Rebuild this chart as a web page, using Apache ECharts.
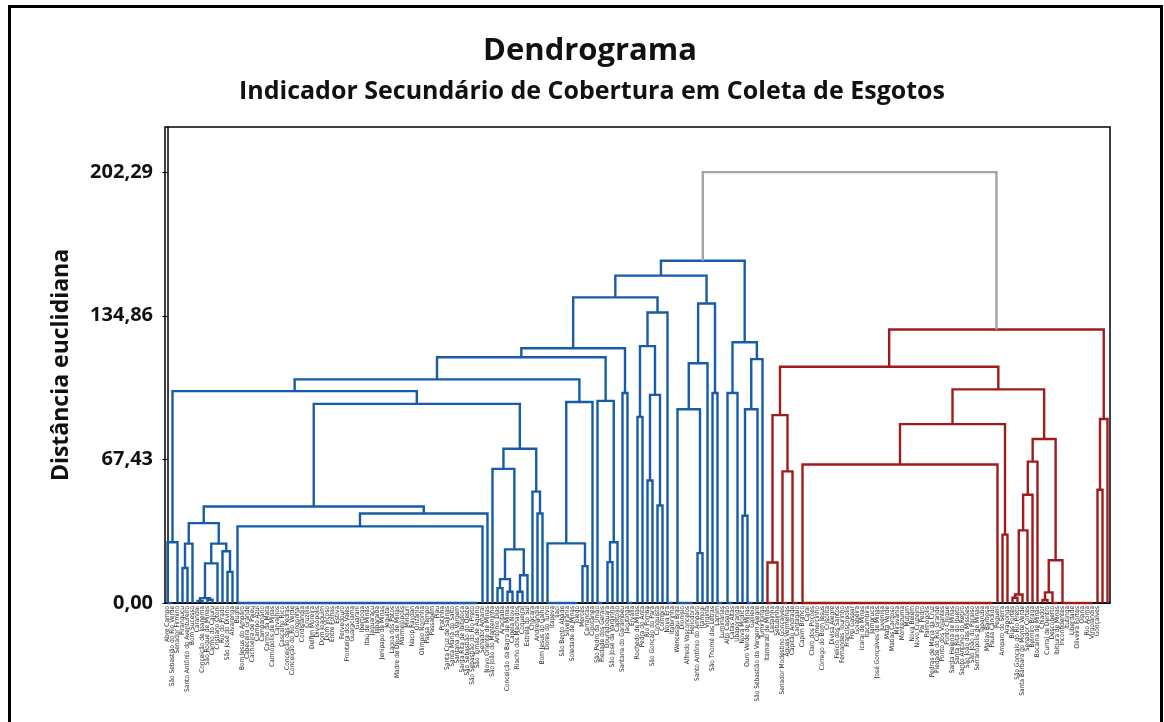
<!DOCTYPE html>
<html>
<head>
<meta charset="utf-8">
<script src="https://cdn.jsdelivr.net/npm/echarts/dist/echarts.min.js"></script>
<style>
  html, body { margin: 0; padding: 0; background: #ffffff; }
  #chart { width: 1164px; height: 722px; }
</style>
</head>
<body>
<div id="chart"></div>
<script>
// Municipalities in dendrogram leaf order.
const municipios = [
  // blue group
  'Abre Campo', 'São Sebastião do Rio Verde', 'Senador Firmino', 'Piranguçu', 'Santo Antônio do Aventureiro',
  'Bom Sucesso', 'Carandaí', 'Conceição de Ipanema', 'São Roque de Minas', 'Carmo do Cajuru', 'Cristiano Otoni',
  'Rio do Prado', 'São José do Divino', 'Alvarenga',
  'Bugre', 'Bom Jesus do Amparo', 'Cabeceira Grande', 'Cachoeira de Pajeú', 'Campo Azul', 'Campanário',
  'Carmo da Mata', 'Carmópolis de Minas', 'Carvalhos', 'Cascalho Rico', 'Conceição das Pedras',
  'Conceição do Rio Verde', 'Congonhal', 'Cordislândia', 'Cruzília', 'Delfim Moreira', 'Divisópolis',
  'Dom Joaquim', 'Dom Viçoso', 'Entre Folhas', 'Estiva', 'Fervedouro', 'Fronteira dos Vales', 'Guaraciama',
  'Guarani', 'Ibertioga', 'Itaú de Minas', 'Jaguaraçu', 'Japaraíba', 'Jenipapo de Minas', 'Jequitaí',
  'Lagoa dos Patos', 'Madre de Deus de Minas', 'Marmelópolis', 'Minduri', 'Nacip Raydan', 'Orizânia',
  'Olímpio Noronha', 'Passa Tempo', 'Passabém', 'Piau', 'Pratinha', 'Santa Cruz de Salinas',
  'Santa Maria do Salto', 'Santana da Vargem', 'Santa Rita de Ibitipoca', 'São Sebastião do Oeste',
  'São Sebastião do Rio Preto', 'São Tomás de Aquino',
  'Senador Amaral', 'Novo Oriente de Minas',
  'São João do Manteninha', 'Antônio Dias', 'Aracitaba', 'Conceição da Barra de Minas', 'Capela Nova',
  'Riacho dos Machados', 'Coqueiral', 'Estrela do Sul', 'Chácara', 'Andrelândia', 'Bom Jesus do Galho',
  'Dores do Turvo', 'Itapeva', 'Ijaci', 'São Bento Abade', 'Silveirânia', 'Soledade de Minas', 'Toledo',
  'Mercês', 'Carrancas', 'Cipotânea',
  'São Pedro da União', 'Piedade dos Gerais', 'Douradoquara', 'São José da Varginha', 'Capitólio',
  'Santana do Garambéu', 'Jacutinga', 'Ervália',
  'Rochedo de Minas', 'Pedra do Anta', 'Rio Pomba', 'São Gonçalo do Pará', 'Conquista', 'Coimbra', 'Nova Era',
  'Itabirinha',
  'Wenceslau Braz', 'Dionísio', 'Alfredo Vasconcelos', 'Heliodora', 'Santo Antônio do Amparo', 'Itamogi',
  'Virgínia', 'São Thomé das Letras', 'Lamim', 'Luminárias',
  'Alto Caparaó', 'Catas Altas', 'Ubaporanga', 'Nova Módica', 'Ouro Verde de Minas', 'Galileia',
  'São Sebastião da Vargem Alegre', 'Tumiritinga',
  // red group
  'Itamarati de Minas', 'Ladainha', 'Setubinha', 'Senador Modestino Gonçalves', 'Águas Vermelhas',
  'Capitão Andrade', 'Cantagalo',
  'Capim Branco', 'Caraí', 'Claro dos Poções', 'Comercinho', 'Córrego do Bom Jesus', 'Crisólita',
  'Divisa Alegre', 'Felício dos Santos', 'Fernandes Tourinho', 'Franciscópolis', 'Frei Gaspar', 'Goiabeira',
  'Icaraí de Minas', 'Itacambira', 'Jampruca', 'José Gonçalves de Minas', 'Juvenília', 'Mata Verde',
  'Matias Cardoso', 'Miravânia', 'Montezuma', 'Mutum', 'Nova Belém', 'Novo Cruzeiro', 'Pai Pedro',
  'Palmópolis', 'Pedras de Maria da Cruz', 'Piedade do Rio Grande', 'Ponto dos Volantes', 'Ponto Chique',
  'Santa Helena de Minas', 'Santa Rita do Itueto', 'Santo Antônio do Retiro', 'São João das Missões',
  'São João do Paraíso', 'Serranópolis de Minas', 'Taparuba',
  'Matias Barbosa', 'Paula Cândido', 'Pequeri',
  'Amparo do Serra', 'Araponga', 'Bias Fortes', 'São Gonçalo do Rio Preto', 'Santa Bárbara do Monte Verde',
  'Senador Cortes',
  'Belmiro Braga', 'Bocaina de Minas', 'Chiador', 'Curral de Dentro', 'Descoberto', 'Ibitiúra de Minas',
  'Inconfidentes', 'Itutinga', 'Liberdade', 'Oliveira Fortes', 'Olaria',
  'Rio Acima', 'Virgolândia', 'Gonçalves'
];

// Cluster tree, in leaf order. A node is [distance, left, right];
// a bare number n stands for n municipalities joined at distance 0.
const blueLower = [99.5,
  [28.5, 2, 1],
  [93.5,
    [45.3,
      [37.5,
        [27.9, [16.4, 1, 1], 1],
        [27.9,
          [18.6, [2.3, [1.0, 1, 1], [1.5, 1, 1]], 1],
          [24.3, 1, [14.6, 1, 1]]]],
      [42.0, [36.0, 49, 1], 1]],
    [72.4,
      [63.0, 1, [25.2, [11.2, [7.0, 1, 1], [5.3, 1, 1]], [13.0, [5.3, 1, 1], 1]]],
      [52.3, 1, [42.0, 1, 1]]]]];
const blueMiddle = [119.6,
  [115.4,
    [105.0, blueLower, [94.4, [28.0, 7, [17.3, 1, 1]], 1]],
    [94.9, 2, [28.5, [19.2, 1, 1], 1]]],
  [98.6, 1, 2]];
const blueUpper = [153.7,
  [143.5, blueMiddle, [136.4, [120.6, [87.4, 1, 1], [97.7, [57.5, 1, 1], [45.8, 1, 1]]], 2]],
  [140.6, [112.6, [91.0, 4, [23.4, 1, 1]], 1], [98.6, 1, 2]]];
const blueTree = [160.7, blueUpper, [122.4, [98.6, 2, 1], [114.5, [91.0, [41.0, 1, 2], 1], 1]]];

const redLeft = [88.2, [19.0, 2, 1], [61.8, 2, 2]];
const redMiddle = [84.0, [65.0, 39, 1], [32.1, 1, 1]];
const redRight = [77.0,
  [66.4, [50.8, [34.1, [4.0, [2.5, 1, 1], 1], 1], 1], 1],
  [20.1, [5.0, [1.4, 1, 1], 2], 7]];
const redTree = [128.4, [110.9, redLeft, [100.3, redMiddle, redRight]], [86.4, [53.2, 1, 1], 1]];

const rootDistance = 202.29;
const yTicks = [0, 67.43, 134.86, 202.29];

const BLUE = '#165ca8', RED = '#a01c1c', GREY = '#a3a3a3';
const palette = [BLUE, RED, GREY];

// Walk a tree, collecting the U-shaped links: [xLeft, xRight, hLeft, hRight, h, colour]
const links = [];
let cursor = 0;
function walk(node, colour) {
  if (typeof node === 'number') {
    const first = cursor;
    cursor += node;
    if (node > 1) links.push([first, cursor - 1, 0, 0, 0, colour]); // zero-distance run along the baseline
    return { x: first, h: 0 };
  }
  const [h, left, right] = node;
  const a = walk(left, colour);
  const b = walk(right, colour);
  links.push([a.x, b.x, a.h, b.h, h, colour]);
  return { x: (a.x + b.x) / 2, h: h };
}
const blueTop = walk(blueTree, 0);
const redTop = walk(redTree, 1);
links.push([blueTop.x, redTop.x, blueTop.h, redTop.h, rootDistance, 2]);
const leafCount = cursor;
const names = municipios.slice(0, leafCount);
while (names.length < leafCount) names.push('');

const FONT = '"Open Sans", "Noto Sans", sans-serif';
const NARROW = '"Liberation Sans Narrow", "DejaVu Sans Condensed", "Liberation Sans", sans-serif';
const chart = echarts.init(document.getElementById('chart'), null, { renderer: 'canvas' });

chart.setOption({
  animation: false,
  backgroundColor: '#ffffff',
  title: [
    { text: 'Dendrograma', left: 585, textAlign: 'center', top: 31,
      textStyle: { fontFamily: FONT, fontSize: 31, fontWeight: 'bold', color: '#111' } },
    { text: 'Indicador Secundário de Cobertura em Coleta de Esgotos', left: 587, textAlign: 'center', top: 74,
      textStyle: { fontFamily: FONT, fontSize: 25, fontWeight: 'bold', color: '#111' } }
  ],
  graphic: [
    { type: 'rect', left: 7, top: 4, shape: { width: 1152, height: 740 },
      style: { fill: null, stroke: '#000', lineWidth: 3 }, silent: true }
  ],
  grid: { left: 165, right: 54, top: 127, bottom: 119, show: true, borderColor: '#000', borderWidth: 1.5 },
  xAxis: [
    { type: 'value', min: -0.5, max: leafCount - 0.5, show: false },
    { type: 'category', data: names, position: 'bottom', boundaryGap: true,
      axisLine: { lineStyle: { color: '#000', width: 1.5 } },
      axisTick: { alignWithLabel: true, length: 5, lineStyle: { color: '#000', width: 1 } },
      axisLabel: { interval: 0, rotate: 90, fontSize: 6.5, margin: 3, color: '#222', fontFamily: NARROW } }
  ],
  yAxis: {
    type: 'value', min: 0, max: 223.5, interval: 67.43,
    name: 'Distância euclidiana', nameLocation: 'middle', nameGap: 92,
    nameTextStyle: { fontFamily: FONT, fontSize: 23, fontWeight: 'bold', color: '#111' },
    axisLine: { show: true, lineStyle: { color: '#000', width: 1.5 } },
    axisTick: { show: true, length: 5, lineStyle: { color: '#000' } },
    splitLine: { show: false },
    axisLabel: { fontFamily: FONT, fontSize: 20, fontWeight: 'bold', color: '#111', margin: 12,
      showMaxLabel: false,
      formatter: v => yTicks.some(t => Math.abs(t - v) < 1e-6) ? v.toFixed(2).replace('.', ',') : '' }
  },
  series: [{
    type: 'custom',
    xAxisIndex: 0,
    yAxisIndex: 0,
    data: links,
    encode: { x: [0, 1], y: [2, 3, 4] },
    clip: false,
    renderItem: function (params, api) {
      const xl = api.value(0), xr = api.value(1);
      const hl = api.value(2), hr = api.value(3), h = api.value(4);
      const pts = [api.coord([xl, hl]), api.coord([xl, h]), api.coord([xr, h]), api.coord([xr, hr])];
      return {
        type: 'polyline',
        shape: { points: pts },
        style: { stroke: palette[api.value(5)], lineWidth: 2.4, fill: null }
      };
    }
  }]
});
</script>
</body>
</html>
